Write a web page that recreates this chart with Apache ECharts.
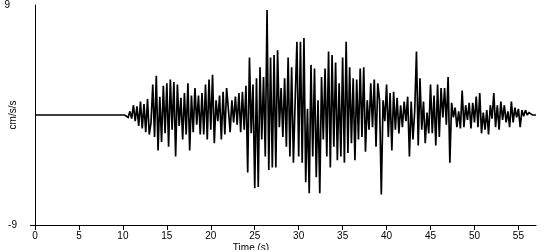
<!DOCTYPE html>
<html><head><meta charset="utf-8">
<script src="https://cdn.jsdelivr.net/npm/echarts@6/dist/echarts.min.js"></script>
<style>html,body{margin:0;padding:0;background:#fff}#c{width:550px;height:250px}</style>
</head><body><div id="c"></div>
<script>
// tick labels
const xTicks = [0, 5, 10, 15, 20, 25, 30, 35, 40, 45, 50, 55];
const yTicks = [-9, 9];
const xName = 'Time (s)';
const yName = 'cm/s/s';
// quiet pre-event record
const quietTimes = [0, 10.2];
const quietValues = [0, 0];
// sampled record: first sample time and sample step (s)
const sampleStart = 10.4;
const sampleStep = 0.2;
// acceleration values (cm/s/s)
const accel = [
  0.1, -0.2, 0.3, -0.3, 0.8, -0.5, 0.7, -0.9, 1.1, -1.1,
  0.9, -1.4, 1.3, -1.6, -0.6, 2.5, -1.8, 3.2, -2.9, 1.5,
  -2.2, 2.4, -1.5, 2.6, -2.6, 2.9, -1.2, 2.7, -3.4, 2.5,
  -0.9, 1.4, -2.0, 1.8, -1.6, 2.6, -2.9, 1.6, -1.4, 2.2,
  -0.8, 1.6, -1.6, 1.8, -1.6, 2.5, -2.0, 2.9, -1.2, 3.3,
  -2.3, 1.2, -0.5, 1.6, -2.0, 1.9, -1.6, 2.2, 0.5, -1.4,
  1.2, -0.6, 1.5, -0.8, 1.8, -1.4, 1.9, -1.2, 2.4, -4.7,
  4.7, -1.5, 2.5, -6.0, 3.0, -5.9, 3.9, -2.0, 3.1, -3.4,
  8.6, -4.5, 4.7, -4.3, 4.9, -4.3, 5.3, -1.0, 2.2, -1.8,
  3.0, -2.6, 4.7, -3.4, 3.9, -3.9, 1.2, 6.0, -3.4, 6.0,
  -3.9, 6.3, -5.5, 0.5, -6.4, 4.1, -3.4, 3.8, -5.1, 1.2,
  -6.4, 3.1, -2.0, 3.8, -3.4, 5.2, -4.3, 4.9, -2.6, 4.3,
  -3.7, 2.6, -3.4, 4.7, -3.9, 6.0, -3.1, 3.9, -2.3, 3.0,
  -3.7, 2.9, -2.0, 3.8, -1.8, 3.9, -3.0, 1.2, -1.2, 2.6,
  -1.0, 2.9, -2.6, 2.6, 1.2, -6.5, 1.2, -0.5, 2.5, -1.8,
  1.8, -2.9, 1.9, -1.2, 1.4, -1.5, 0.8, -1.0, 1.1, -0.5,
  1.5, -3.4, 1.1, -2.0, 0.3, 5.2, -2.5, 3.0, -1.2, 1.1,
  -2.3, 0.2, -1.5, 2.5, -1.5, 1.6, -2.5, 2.5, -1.8, 2.2,
  -0.2, 2.2, -0.8, 3.1, -3.9, 1.0, -0.2, 0.6, -1.0, 0.3,
  -1.1, 2.0, -1.0, 0.8, -0.4, 1.0, -1.1, 1.0, -0.6, 1.5,
  -1.0, 1.8, -1.5, 0.2, -1.2, 0.4, -1.6, 0.8, -0.3, 1.8,
  -1.0, 0.8, -1.2, 1.1, -0.4, 0.8, -0.6, 0.3, -1.0, 1.1,
  -0.6, 0.6, -0.2, 0.5, -1.0, 0.4, -0.1, 0.4, 0.0, 0.2,
  0.1, 0.0, 0.0, 0.0
];

const data = quietTimes.map((t, i) => [t, quietValues[i]]);
accel.forEach((v, i) => data.push([+(sampleStart + i * sampleStep).toFixed(2), v]));

const FONT = "'Liberation Sans', Arial, sans-serif";
const chart = echarts.init(document.getElementById('c'), null, {renderer: 'canvas'});
chart.setOption({
  animation: false,
  backgroundColor: '#ffffff',
  grid: {left: 35, right: 14, top: 5, bottom: 25, containLabel: false, outerBoundsMode: 'none'},
  xAxis: {
    type: 'value', min: 0, max: 57, interval: 5,
    name: xName, nameLocation: 'middle', nameGap: 18, nameMoveOverlap: false,
    nameTextStyle: {color: '#000', fontFamily: FONT, fontSize: 10, padding: [0, 69, 0, 0]},
    axisLine: {show: true, onZero: false, lineStyle: {color: '#000', width: 1}},
    axisTick: {show: true, length: 5, customValues: xTicks, lineStyle: {color: '#000'}},
    axisLabel: {show: true, customValues: xTicks, margin: 6, color: '#000', fontFamily: FONT, fontSize: 10},
    splitLine: {show: false}
  },
  yAxis: {
    type: 'value', min: -9, max: 9, interval: 18,
    name: yName, nameLocation: 'middle', nameGap: 17, nameMoveOverlap: false,
    nameTextStyle: {color: '#000', fontFamily: FONT, fontSize: 10},
    axisLine: {show: true, onZero: false, lineStyle: {color: '#000', width: 1}},
    axisTick: {show: true, length: 5, customValues: [yTicks[0]], lineStyle: {color: '#000'}},
    axisLabel: {
      show: true, customValues: yTicks, margin: 18, color: '#000', fontFamily: FONT, fontSize: 10,
      formatter: v => (v > 0 ? '{p|' + v + '}' : '{n|' + v + '}'),
      rich: {
        p: {color: '#000', fontFamily: FONT, fontSize: 10, padding: [0, 7, 0, 0]},
        n: {color: '#000', fontFamily: FONT, fontSize: 10}
      }
    },
    splitLine: {show: false}
  },
  series: [{
    type: 'line', data: data, showSymbol: false, symbol: 'none',
    lineStyle: {color: '#000', width: 1.7, join: 'miter', miterLimit: 2}, silent: true
  }]
});
</script>
</body></html>
